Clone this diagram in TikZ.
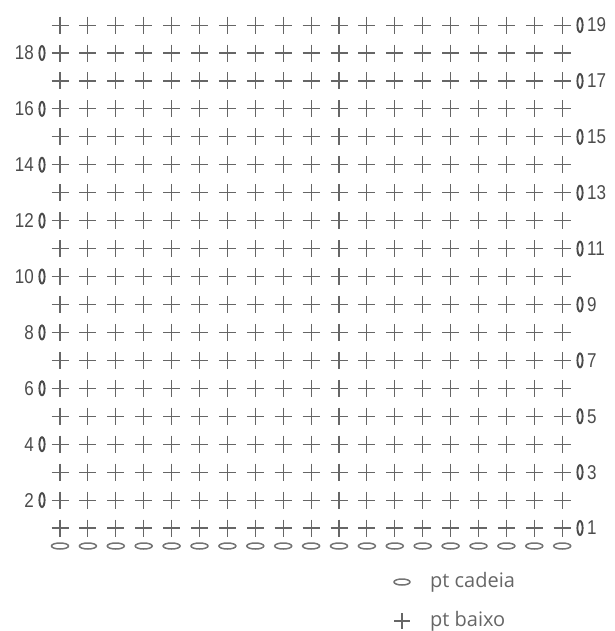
\documentclass[tikz,border=0pt]{standalone}
\usepackage{fontspec}
\newfontfamily\numfont{Liberation Sans}
\newfontfamily\legfont{Open Sans}
\usetikzlibrary{positioning}
\tikzset{
  sc/.style     ={draw=black!60, line width=1.1pt},
  ch/.style     ={draw=black!55, line width=1.5pt},
  turn/.style   ={draw=black!70, line width=1.9pt},
  rownum/.style ={font=\numfont\fontsize{20}{20}\selectfont, text=black!70, inner sep=0pt, xscale=0.85},
  legtxt/.style ={font=\legfont\fontsize{20}{20}\selectfont, text=black!60, inner sep=0pt, anchor=west},
}

\begin{document}
\begin{tikzpicture}[x=1pt,y=-1pt]
\useasboundingbox (0,0) rectangle (614,631);
% --- rows of pt baixo ---
\foreach \r in {1,...,19} {
  \pgfmathsetmacro\yy{528-27.94*(\r-1)}
  \foreach \c in {0,...,18} {
    \draw[sc] (60+27.9*\c,\yy) +(-8.5,0) -- +(8.5,0) +(0,-8.5) -- +(0,8.5);
  }
}
% --- foundation chain ---
\foreach \c in {0,...,18} {\draw[ch] (60+27.9*\c,546) ellipse (8.5 and 3);}
% --- row numbers: odd on the right, even on the left ---
\foreach \r in {1,3,...,19} {
  \pgfmathsetmacro\yy{528-27.94*(\r-1)}
  \draw[turn] (580,\yy) ellipse (2.6 and 7);
  \node[rownum, anchor=west] (row\r) at (587,\yy) {\r};
}
\foreach \r in {2,4,...,18} {
  \pgfmathsetmacro\yy{528-27.94*(\r-1)}
  \draw[turn] (42,\yy) ellipse (2.6 and 7);
  \node[rownum, anchor=east] (row\r) at (34,\yy) {\r};
}
% --- legend ---
\draw[ch] (402,582) ellipse (8 and 3);
\node[legtxt] (cadeia) at (430,582) {pt cadeia};
\draw[sc] (402,621) +(-8,0) -- +(8,0) +(0,-8) -- +(0,8);
\node[legtxt] (baixo) at (430,621) {pt baixo};
\end{tikzpicture}
\end{document}
